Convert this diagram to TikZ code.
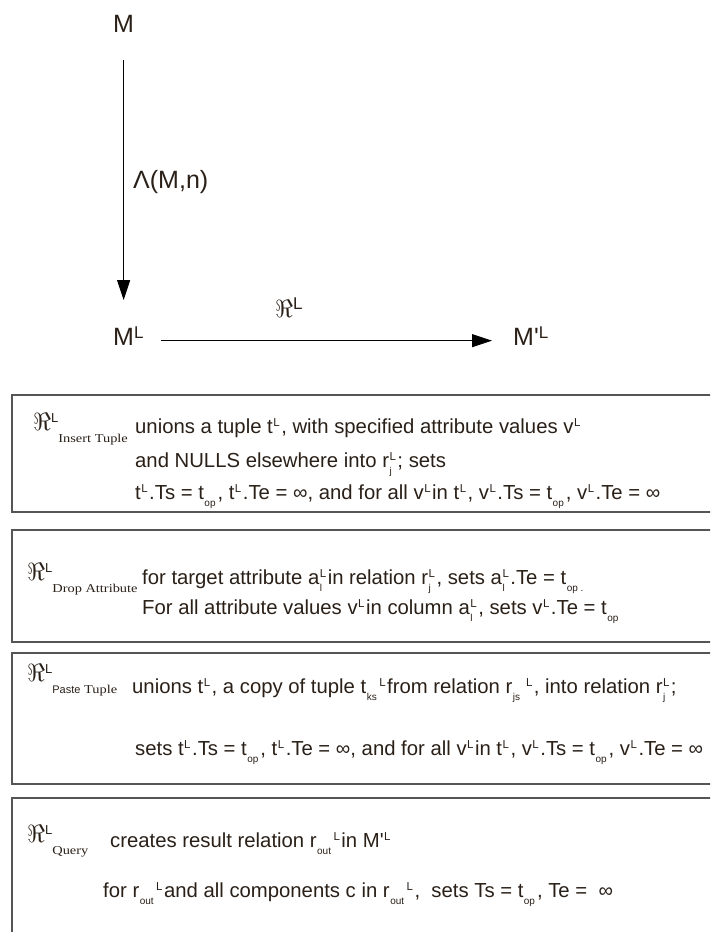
\documentclass[tikz,border=0pt]{standalone}
\usepackage{fontspec}
\usepackage{graphicx}
\setmainfont{Liberation Sans}
\newfontfamily\rawsans[Ligatures=TeXOff]{Liberation Sans}
\newfontfamily\serifx[FakeStretch=1.2]{Liberation Serif}
\usetikzlibrary{arrows.meta}
\definecolor{ink}{HTML}{2A2018}
\definecolor{framec}{HTML}{555555}
\newcommand\up[1]{\kern0.5pt\raisebox{7pt}{\fontsize{11.5}{11.5}\selectfont #1}\kern1.5pt}
\newcommand\dn[1]{\kern0.5pt\raisebox{-7.5pt}{\fontsize{10}{10}\selectfont #1}\kern2pt}
\newcommand\ud[2]{\rlap{\dn{#1}}\up{#2}}
\newcommand\apos{{\rawsans '}}
\newcommand\RLx{{\fontsize{23}{23}\selectfont$\Re$}\raisebox{7.5pt}{\fontsize{13}{13}\selectfont L}}
\newcommand\opsub[1]{\raisebox{-12pt}{\fontsize{12}{12}\serifx #1}}
\begin{document}
\begin{tikzpicture}[x=1pt,y=-1pt,
  txt/.style={anchor=base west,inner sep=0pt,text=ink,font=\fontsize{20.3}{20.3}\selectfont},
  big/.style={inner sep=0pt,text=ink,font=\fontsize{25}{25}\selectfont},
  frm/.style={draw=framec,line width=1.6pt,anchor=north west,inner sep=0pt},
  arr/.style={draw=black,line width=0.8pt,-{Triangle[width=13pt,length=20pt]}}]
\clip (0,0) rectangle (710,932);
\fill[white] (0,0) rectangle (710,932);
% top diagram
\node[big,anchor=base west] (M) at (113,32) {M};
\node[big,anchor=base west] (ML) at (113,345) {M\raisebox{7pt}{\fontsize{17}{17}\selectfont L}};
\node[big,anchor=base west] (MpL) at (513,345) {M\apos\raisebox{7pt}{\fontsize{17}{17}\selectfont L}};
\node[big,anchor=base west] (lam) at (133,188) {Λ(M,n)};
\node[anchor=base west,inner sep=0pt,text=ink] (RR) at (275,317) {\fontsize{27}{27}\selectfont$\Re$\raisebox{8pt}{\fontsize{17}{17}\selectfont L}};
\draw[arr] ([yshift=-28pt]M.south) -- ([yshift=26pt]M.south |- ML.north);
\draw[arr] ([xshift=17pt,yshift=-5pt]ML.east |- MpL.west) -- ([xshift=-21pt,yshift=-5pt]MpL.west);
% boxes
\node[frm,minimum width=720pt,minimum height=117pt] (b1) at (11,394) {};
\node[frm,minimum width=720pt,minimum height=112pt] (b2) at (11,529) {};
\node[frm,minimum width=720pt,minimum height=131pt] (b3) at (11,652) {};
\node[frm,minimum width=720pt,minimum height=200pt] (b4) at (11,797) {};
% box 1
\node[txt] (r1) at (33,430) {\RLx\opsub{Insert Tuple}};
\node[txt] (t11) at (135,433) {unions a tuple t\up{L}, with specified attribute values v\up{L}};
\node[txt] (t12) at (135,467) {and NULLS elsewhere into r\ud{j}{L}; sets};
\node[txt] (t13) at (135,499) {t\up{L}.Ts = t\dn{op}, t\up{L}.Te = ∞, and for all v\up{L} in t\up{L}, v\up{L}.Ts = t\dn{op}, v\up{L}.Te = ∞};
% box 2
\node[txt] (r2) at (27,580) {\RLx\opsub{Drop Attribute}};
\node[txt] (t21) at (142,584) {for target attribute a\ud{l}{L} in relation r\ud{j}{L}, sets a\ud{l}{L}.Te = t\dn{op .}};
\node[txt] (t22) at (142,614) {For all attribute values v\up{L} in column a\ud{l}{L}, sets v\up{L}.Te = t\dn{op}};
% box 3
\node[txt] (r3) at (27,681) {\RLx\opsub{{\fontsize{11}{11}\rmfamily Paste} Tuple}};
\node[txt] (t31) at (132,693) {unions t\up{L}, a copy of tuple t\dn{ks}\up{L} from relation r\dn{js}\,\up{L}, into relation r\ud{j}{L};};
\node[txt] (t32) at (135,755) {sets t\up{L}.Ts = t\dn{op}, t\up{L}.Te = ∞, and for all v\up{L} in t\up{L}, v\up{L}.Ts = t\dn{op}, v\up{L}.Te = ∞};
% box 4
\node[txt] (r4) at (27,842) {\RLx\opsub{Query}};
\node[txt] (t41) at (110,847) {creates result relation r\dn{out}\up{L}in M\apos\up{L}};
\node[txt] (t42) at (103,897) {for r\dn{out}\up{L}and all components c in r\dn{out}\up{L}, \ sets Ts = t\dn{op}, Te = \ ∞};
\end{tikzpicture}
\end{document}
